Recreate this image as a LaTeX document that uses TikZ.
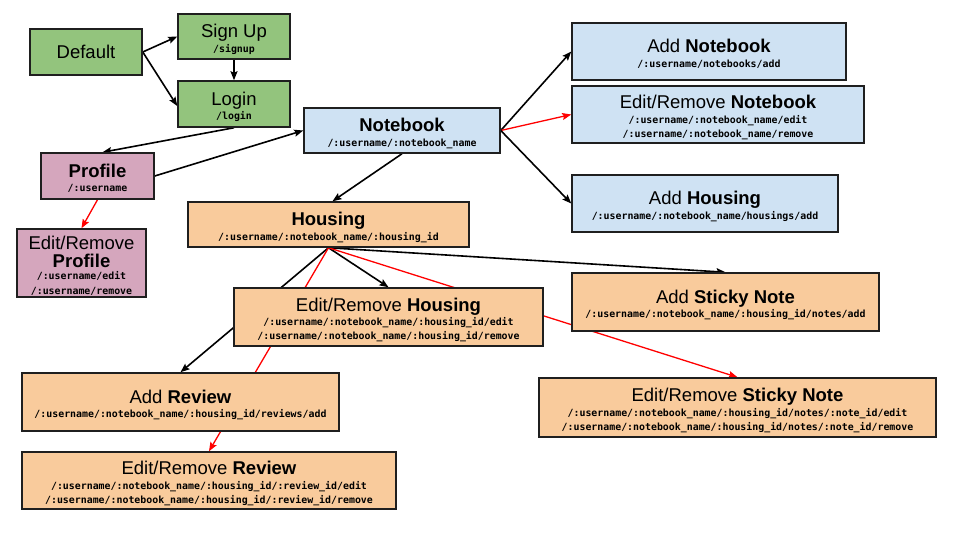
\documentclass[tikz,border=0pt]{standalone}
\usepackage{fontspec}
\setmainfont{Liberation Sans}
\newfontfamily\codefont{DejaVu Sans Mono}
\usetikzlibrary{arrows.meta}
\pgfdeclarelayer{background}
\pgfsetlayers{background,main}
\definecolor{cgreen}{HTML}{93C47D}
\definecolor{cpink}{HTML}{D5A6BD}
\definecolor{cblue}{HTML}{CFE2F3}
\definecolor{corange}{HTML}{F9CB9C}
\definecolor{cred}{HTML}{FF0000}
\newcommand{\tfont}{\fontsize{18.5}{21}\selectfont}
\newcommand{\cfont}{\codefont\bfseries\fontsize{9.9}{14}\selectfont}
\newcommand{\tstr}{\rule{0pt}{20pt}}
\newcommand{\dstr}{\rule[-3pt]{0pt}{3pt}}
\tikzset{
  box/.style={draw=black!88, line width=1.5pt, rectangle, inner sep=0pt, align=center,
    font=\fontsize{9.9}{14}\selectfont},
  gbox/.style={box, fill=cgreen},
  pbox/.style={box, fill=cpink},
  bbox/.style={box, fill=cblue},
  obox/.style={box, fill=corange},
  blk/.style={draw=black, line width=1.6pt, -{Stealth[length=9pt,width=7pt,inset=1.5pt]}},
  rd/.style={draw=cred, line width=1.3pt, -{Stealth[length=9pt,width=7pt,inset=1.5pt]}},
}
\begin{document}
\begin{tikzpicture}[x=1pt,y=-1pt]
\useasboundingbox (0,0) rectangle (960,540);
% nodes
\node[gbox, minimum width=112, minimum height=46] (default) at (86,52) {{\tfont Default}};
\node[gbox, minimum width=112, minimum height=45] (signup) at (234,36.5) {{\tfont\tstr Sign Up}\\[0.5pt]{\cfont /signup\dstr}};
\node[gbox, minimum width=112, minimum height=46] (login) at (234,104) {{\tfont\tstr Login}\\[0.5pt]{\cfont /login\dstr}};
\node[bbox, minimum width=196, minimum height=45] (notebook) at (402,130.5) {{\tfont\bfseries\tstr Notebook}\\[0.5pt]{\cfont /:username/:notebook\_name\dstr}};
\node[pbox, minimum width=113, minimum height=46] (profile) at (97.5,176) {{\tfont\bfseries\tstr Profile}\\[0.5pt]{\cfont /:username\dstr}};
\node[pbox, minimum width=129, minimum height=68] (editprofile) at (81.5,263) {{\tfont\tstr Edit/Remove}\\[4pt]{\tfont\bfseries Profile}\\[-1.5pt]{\cfont /:username/edit}\\[0.5pt]{\cfont /:username/remove\dstr}};
\node[obox, minimum width=281, minimum height=45] (housing) at (328.5,224.5) {{\tfont\bfseries\tstr Housing}\\[0.5pt]{\cfont /:username/:notebook\_name/:housing\_id\dstr}};
\node[obox, minimum width=309, minimum height=58] (edithousing) at (388.5,317) {{\tfont\tstr Edit/Remove \textbf{Housing}}\\[0.5pt]{\cfont /:username/:notebook\_name/:housing\_id/edit}\\{\cfont /:username/:notebook\_name/:housing\_id/remove\dstr}};
\node[bbox, minimum width=274, minimum height=57] (addnotebook) at (709,51.5) {{\tfont\tstr Add \textbf{Notebook}}\\[0.5pt]{\cfont /:username/notebooks/add\dstr}};
\node[bbox, minimum width=292, minimum height=57] (editnotebook) at (718,114.5) {{\tfont\tstr Edit/Remove \textbf{Notebook}}\\[0.5pt]{\cfont /:username/:notebook\_name/edit}\\{\cfont /:username/:notebook\_name/remove\dstr}};
\node[bbox, minimum width=266, minimum height=57] (addhousing) at (705,203.5) {{\tfont\tstr Add \textbf{Housing}}\\[0.5pt]{\cfont /:username/:notebook\_name/housings/add\dstr}};
\node[obox, minimum width=317, minimum height=58] (addreview) at (180.5,402) {{\tfont\tstr Add \textbf{Review}}\\[0.5pt]{\cfont /:username/:notebook\_name/:housing\_id/reviews/add\dstr}};
\node[obox, minimum width=374, minimum height=57] (editreview) at (209,480.5) {{\tfont\tstr Edit/Remove \textbf{Review}}\\[0.5pt]{\cfont /:username/:notebook\_name/:housing\_id/:review\_id/edit}\\{\cfont /:username/:notebook\_name/:housing\_id/:review\_id/remove\dstr}};
\node[obox, minimum width=307, minimum height=58] (addsticky) at (725.5,302) {{\tfont\tstr Add \textbf{Sticky Note}}\\[0.5pt]{\cfont /:username/:notebook\_name/:housing\_id/notes/add\dstr}};
\node[obox, minimum width=397, minimum height=59] (editsticky) at (737.5,407.5) {{\tfont\tstr Edit/Remove \textbf{Sticky Note}}\\[0.5pt]{\cfont /:username/:notebook\_name/:housing\_id/notes/:note\_id/edit}\\{\cfont /:username/:notebook\_name/:housing\_id/notes/:note\_id/remove\dstr}};
% connectors
\begin{pgfonlayer}{background}
\draw[blk] (default.east) -- (signup.west);
\draw[blk] (default.east) -- ([yshift=-2]login.west);
\draw[blk] (signup.south) -- (login.north);
\draw[blk] (login.south) -- ([xshift=5]profile.north);
\draw[blk] (profile.east) -- (notebook.west);
\draw[rd] (profile.south) -- (editprofile.north);
\draw[blk] (notebook.east) -- (addnotebook.west);
\draw[rd] (notebook.east) -- (editnotebook.west);
\draw[blk] (notebook.east) -- (addhousing.west);
\draw[blk] (notebook.south) -- ([xshift=4]housing.north);
\draw[blk] (housing.south) -- (edithousing.north);
\draw[blk] (housing.south) -- (addsticky.north);
\draw[blk] (housing.south) -- (addreview.north);
\draw[rd] (housing.south) -- (editreview.north);
\draw[rd] (housing.south) -- (editsticky.north);
\end{pgfonlayer}
\end{tikzpicture}
\end{document}
